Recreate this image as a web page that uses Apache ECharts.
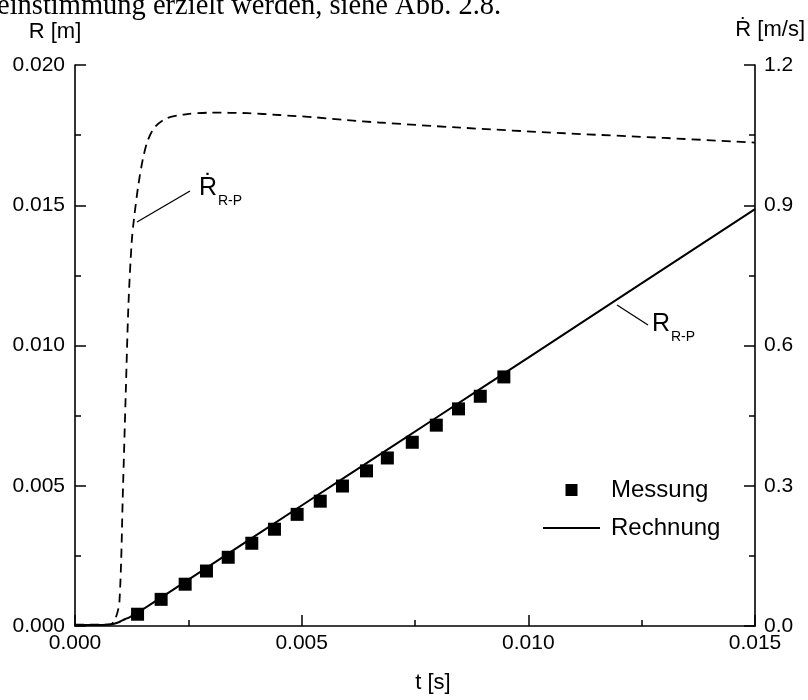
<!DOCTYPE html>
<html><head><meta charset="utf-8">
<script src="https://cdn.jsdelivr.net/npm/echarts@6/dist/echarts.min.js"></script>
<style>html,body{margin:0;padding:0;background:#fff}#c{width:808px;height:700px}</style>
</head><body><div id="c"></div>
<script>
// Messung (measured points)
const messungT = [0.00138,0.00190,0.00243,0.00290,0.00338,0.00390,0.00440,0.00490,0.00541,0.00590,0.00643,0.00689,0.00744,0.00797,0.00846,0.00894,0.00946];
const messungR = [0.00042,0.00095,0.00149,0.00196,0.00245,0.00295,0.00345,0.00398,0.00445,0.00499,0.00553,0.00599,0.00655,0.00716,0.00774,0.00819,0.00888];
// Rechnung R_R-P (calculated radius)
const rechnungT = [0,0.0006,0.0008,0.0009,0.0010,0.0011,0.0012,0.0013,0.0014,0.002,0.004,0.006,0.008,0.010,0.012,0.015];
const rechnungR = [0.00004,0.00004,0.00006,0.0001,0.00016,0.00024,0.00031,0.0004,0.00049,0.00112,0.00324,0.00535,0.00746,0.00957,0.01169,0.01486];
// Rdot R-P (calculated velocity, right axis)
const rdotT = [0,0.00077,0.00088,0.00098,0.00106,0.00112,0.00118,0.00125,0.0013,0.0014,0.0015,0.0016,0.00175,0.002,0.0024,0.003,0.0038,0.0045,0.0053,0.006,0.0067,0.0085,0.0108,0.013,0.015];
const rdotV = [0.003,0.003,0.013,0.052,0.30,0.50,0.69,0.82,0.87,0.945,1.0,1.037,1.066,1.085,1.094,1.098,1.097,1.093,1.088,1.082,1.077,1.066,1.054,1.044,1.034];
// axis tick settings
const xTicks = [0, 0.005, 0.010, 0.015];
const yLeftTicks = [0, 0.005, 0.010, 0.015, 0.020];
const yRightTicks = [0, 0.3, 0.6, 0.9, 1.2];

const FONT = '"Liberation Sans", Arial, Helvetica, sans-serif';
const zip = (a, b) => a.map((v, i) => [v, b[i]]);
const chart = echarts.init(document.getElementById('c'), null, {renderer: 'canvas'});

const axisCommon = {
  axisLine: {show: true, onZero: false, lineStyle: {color: '#000', width: 1.6}},
  axisTick: {show: true, inside: true, length: 11, lineStyle: {color: '#000', width: 1.5}},
  minorTick: {show: true, splitNumber: 2, length: 6, lineStyle: {color: '#000', width: 1.5}},
  splitLine: {show: false},
  minorSplitLine: {show: false}
};

function txt(text, x, y, size, align, family) {
  return {type: 'text', x: x, y: y, silent: true, style: {
    text: text, fill: '#000', fontSize: size, fontFamily: family || FONT,
    align: align || 'left', textAlign: align || 'left',
    verticalAlign: 'middle', textVerticalAlign: 'middle'}};
}

chart.setOption({
  animation: false,
  backgroundColor: '#fff',
  grid: {left: 75, right: 53, top: 65, bottom: 74},
  xAxis: Object.assign({type: 'value', min: xTicks[0], max: xTicks[xTicks.length-1], interval: 0.005,
    axisLabel: {color: '#000', fontSize: 21, fontFamily: FONT, margin: 7, formatter: v => v.toFixed(3)}}, axisCommon),
  yAxis: [
    Object.assign({type: 'value', position: 'left', min: yLeftTicks[0], max: yLeftTicks[yLeftTicks.length-1], interval: 0.005,
      axisLabel: {color: '#000', fontSize: 21, fontFamily: FONT, margin: 10, formatter: v => v.toFixed(3)}}, axisCommon),
    Object.assign({type: 'value', position: 'right', min: yRightTicks[0], max: yRightTicks[yRightTicks.length-1], interval: 0.3,
      axisLabel: {color: '#000', fontSize: 21, fontFamily: FONT, margin: 9, formatter: v => v.toFixed(1)}}, axisCommon)
  ],
  legend: {
    orient: 'vertical', left: 538, top: 473, itemWidth: 57, itemHeight: 12, itemGap: 14,
    data: [
      {name: 'Messung', icon: 'path://M0,0H10V10H0Z'},
      {name: 'Rechnung', icon: 'path://M0,0H57V2H0Z'}
    ],
    textStyle: {color: '#000', fontSize: 24, fontFamily: FONT, padding: [0, 0, 0, 6]}
  },
  series: [
    {name: 'Rdot', type: 'line', yAxisIndex: 1, data: zip(rdotT, rdotV), symbol: 'none', smooth: 0.3,
      lineStyle: {color: '#000', width: 1.8, type: [9, 6]}, z: 2},
    {name: 'Rechnung', type: 'line', data: zip(rechnungT, rechnungR), symbol: 'none', smooth: 0.2,
      lineStyle: {color: '#000', width: 2}, itemStyle: {color: '#000'}, z: 3},
    {name: 'Messung', type: 'scatter', data: zip(messungT, messungR), symbol: 'rect', symbolSize: 13,
      itemStyle: {color: '#000', opacity: 1}, z: 4}
  ],
  graphic: [
    txt('einstimmung erzielt werden, siehe Abb. 2.8.', -3, 7, 28.5, 'left', '"Liberation Serif", "DejaVu Serif", serif'),
    txt('R [m]', 55, 32, 22, 'center'),
    txt('Ṙ [m/s]', 805, 30, 22, 'right'),
    txt('t [s]', 433, 683, 22, 'center'),
    {type: 'line', silent: true, shape: {x1: 137, y1: 222, x2: 190, y2: 191}, style: {stroke: '#000', lineWidth: 1.3}},
    txt('Ṙ', 199, 188, 25, 'left'),
    txt('R-P', 218, 201, 14, 'left'),
    {type: 'line', silent: true, shape: {x1: 617, y1: 305, x2: 648, y2: 325}, style: {stroke: '#000', lineWidth: 1.3}},
    txt('R', 652, 324, 25, 'left'),
    txt('R-P', 671, 337, 14, 'left')
  ]
});
</script></body></html>
